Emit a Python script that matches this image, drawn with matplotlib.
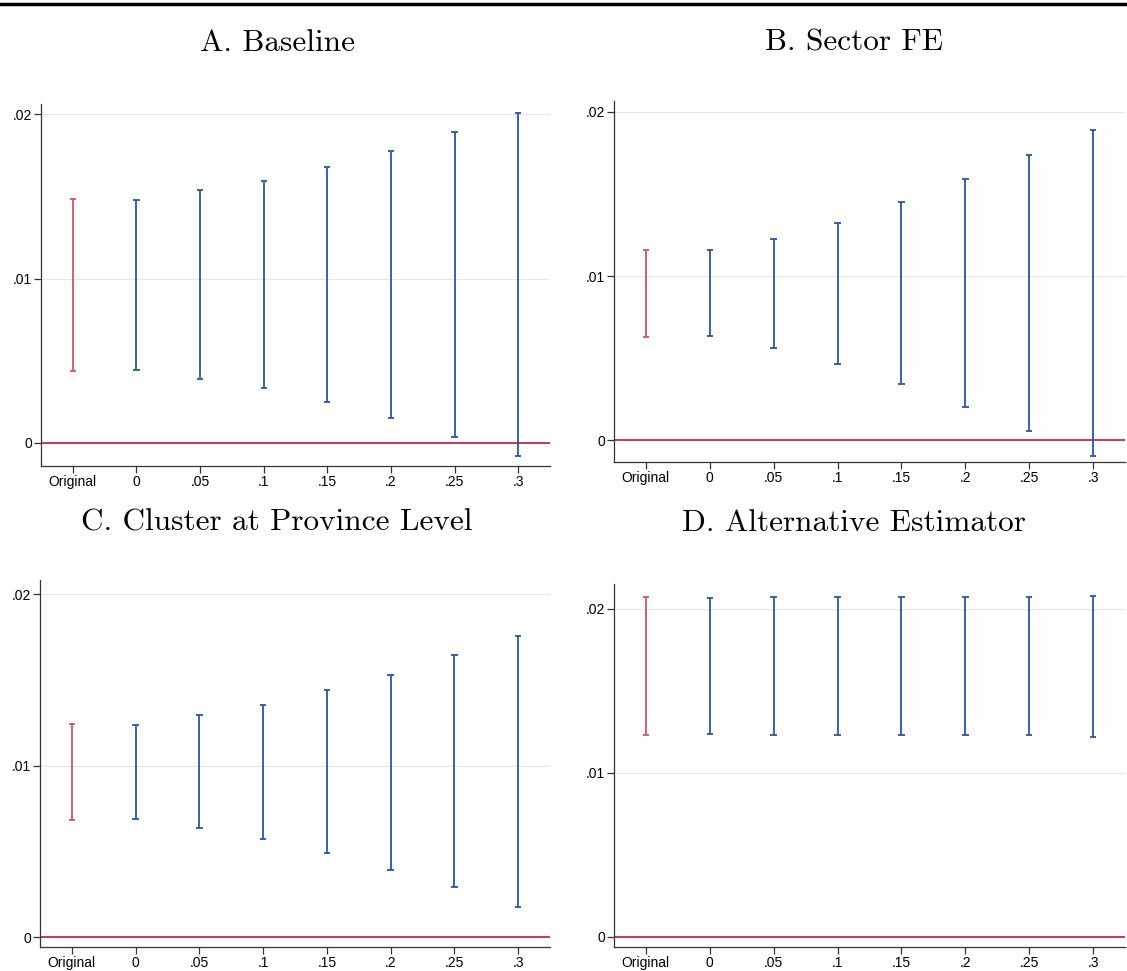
import numpy as np
import matplotlib
import matplotlib.pyplot as plt

matplotlib.use('Agg')

# x categories
labels = ['Original', '0', '.05', '.1', '.15', '.2', '.25', '.3']

# confidence interval bounds per panel (low, high)
a_lo = [0.00438, 0.00444, 0.00389, 0.00334, 0.00249, 0.00152, 0.00036, -0.00079]
a_hi = [0.01483, 0.01477, 0.01538, 0.01593, 0.01678, 0.01775, 0.01890, 0.02006]

b_lo = [0.00628, 0.00634, 0.00561, 0.00463, 0.00341, 0.00201, 0.00055, -0.00098]
b_hi = [0.01159, 0.01159, 0.01226, 0.01323, 0.01451, 0.01591, 0.01738, 0.01890]

c_lo = [0.00682, 0.00688, 0.00636, 0.00571, 0.00490, 0.00391, 0.00292, 0.00175]
c_hi = [0.01242, 0.01236, 0.01294, 0.01353, 0.01440, 0.01528, 0.01644, 0.01755]

d_lo = [0.01232, 0.01238, 0.01232, 0.01232, 0.01232, 0.01232, 0.01232, 0.01220]
d_hi = [0.02073, 0.02067, 0.02073, 0.02073, 0.02073, 0.02073, 0.02073, 0.02079]

titles = ['A. Baseline', 'B. Sector FE', 'C. Cluster at Province Level',
          'D. Alternative Estimator']

W, H = 1127, 971
fig = plt.figure(figsize=(W / 100, H / 100), dpi=100)

# panel boxes in pixels: left, right, top, bottom, ylim, title centre x
panels = [
    (41, 550, 104, 466, (-0.00140, 0.02061), a_lo, a_hi, 277),
    (614, 1125, 101, 462, (-0.00134, 0.02067), b_lo, b_hi, 854),
    (40, 550, 580, 947, (-0.00058, 0.02082), c_lo, c_hi, 277),
    (614, 1125, 584, 947, (-0.00061, 0.02152), d_lo, d_hi, 854),
]

red = '#d25566'
blue = '#2456b0'
zero_col = '#c42a50'

x = np.arange(len(labels))
for i, (l, r, t, b, ylim, lo, hi, tx) in enumerate(panels):
    ax = fig.add_axes([l / W, 1 - b / H, (r - l) / W, (b - t) / H])
    lo = np.array(lo)
    hi = np.array(hi)
    for j in range(len(labels)):
        col = red if j == 0 else blue
        ax.vlines(x[j], lo[j], hi[j], color=col, lw=1.3, zorder=3)
        ax.hlines([lo[j], hi[j]], x[j] - 0.05, x[j] + 0.05, color=col, lw=1.3, zorder=3)
    ax.axhline(0, color=zero_col, lw=1.3, zorder=2)
    ax.set_xlim(-0.5, 7.5)
    ax.set_ylim(*ylim)
    ax.set_yticks([0, 0.01, 0.02])
    ax.set_yticklabels(['0', '.01', '.02'])
    ax.set_xticks(x)
    ax.set_xticklabels(labels)
    ax.grid(axis='y', color='#e6e6e6', lw=0.8, zorder=0)
    ax.set_axisbelow(True)
    for s in ['top', 'right']:
        ax.spines[s].set_visible(False)
    for s in ['left', 'bottom']:
        ax.spines[s].set_linewidth(0.9)
        ax.spines[s].set_color('#333333')
    ax.tick_params(length=5, width=0.9, color='#333333', labelsize=10, pad=1.5)
    for lab in ax.get_xticklabels() + ax.get_yticklabels():
        lab.set_family('Liberation Sans')
    ty = 43 if i < 2 else 523
    fig.text(tx / W, 1 - ty / H, titles[i], ha='center', va='center',
             fontsize=22.5, family='cmr10')

# top rule
fig.add_artist(plt.Line2D([0, 1], [1 - 4 / H, 1 - 4 / H], color='black', lw=2.5))

fig.savefig('out.png', dpi=100)
